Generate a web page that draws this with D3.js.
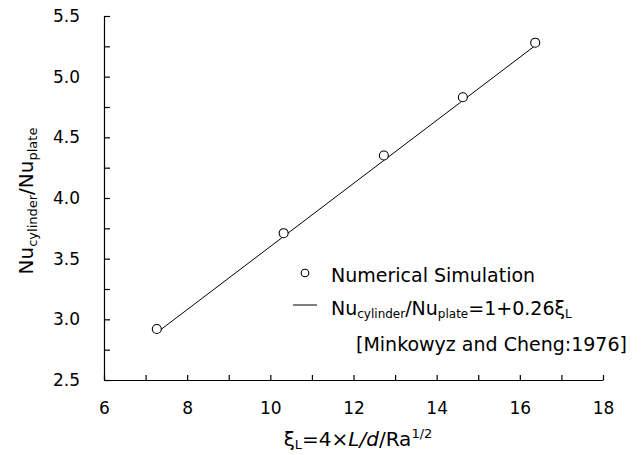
<!DOCTYPE html>
<html><head><meta charset="utf-8">
<script src="https://cdn.jsdelivr.net/npm/d3@7"></script>
<style>
body{margin:0;background:#fff;}
text{font-family:"DejaVu Sans","Liberation Sans",Arial,sans-serif;fill:#000;}
</style></head>
<body>
<svg id="c" width="642" height="455"></svg>
<script>
const xiValues = [7.27, 10.32, 12.73, 14.63, 16.37];
const nuRatio = [2.92, 3.71, 4.35, 4.83, 5.28];
const fitRange = [7.27, 16.37];
const fitA = 1, fitB = 0.26;
const xTicks = [6,7,8,9,10,11,12,13,14,15,16,17,18];
const xLabels = [6,8,10,12,14,16,18];
const yTicks = [2.5,2.75,3,3.25,3.5,3.75,4,4.25,4.5,4.75,5,5.25,5.5];
const yLabels = [2.5,3,3.5,4,4.5,5,5.5];

const svg = d3.select("#c");
const x = d3.scaleLinear().domain([6,18]).range([104,603]);
const y = d3.scaleLinear().domain([2.5,5.5]).range([380,16]);
const fs = 17;

const gx = svg.append("g").attr("transform","translate(0,380)")
  .call(d3.axisBottom(x).tickValues(xTicks).tickSizeInner(-5).tickSizeOuter(0).tickPadding(22)
    .tickFormat(d => xLabels.includes(d) ? d3.format("d")(d) : ""));
const gy = svg.append("g").attr("transform","translate(104,0)")
  .call(d3.axisLeft(y).tickValues(yTicks).tickSizeInner(-6).tickSizeOuter(0).tickPadding(24)
    .tickFormat(d => yLabels.includes(d) ? d3.format(".1f")(d) : ""));
[gx,gy].forEach(g=>{
  g.attr("font-size",fs).attr("font-family",null);
  g.selectAll("path,line").attr("stroke","#000").attr("stroke-width",1.2);
  g.selectAll("text").attr("fill","#000");
});

// fit line
const fitData = fitRange.map(v=>({x:v,y:fitA+fitB*v}));
svg.append("path").datum(fitData)
  .attr("d", d3.line().x(d=>x(d.x)).y(d=>y(d.y)))
  .attr("fill","none").attr("stroke","#000").attr("stroke-width",1);

// points
svg.selectAll("circle.pt").data(xiValues.map((v,i)=>({x:v,y:nuRatio[i]})))
  .join("circle").attr("class","pt")
  .attr("cx",d=>x(d.x)).attr("cy",d=>y(d.y)).attr("r",4.5)
  .attr("fill","#fff").attr("stroke","#000").attr("stroke-width",1.1);

// y title
const yt = svg.append("text").attr("transform","translate(33,201) rotate(-90)")
  .attr("text-anchor","middle").attr("font-size",20);
yt.append("tspan").text("Nu");
yt.append("tspan").attr("font-size",13).attr("dy",4).text("cylinder");
yt.append("tspan").attr("dy",-4).text("/Nu");
yt.append("tspan").attr("font-size",13).attr("dy",4).text("plate");

// x title
const xt = svg.append("text").attr("x",358).attr("y",446).attr("text-anchor","middle").attr("font-size",20);
xt.append("tspan").text("ξ");
xt.append("tspan").attr("font-size",13).attr("dy",3).text("L");
xt.append("tspan").attr("dy",-3).text("=4×");
xt.append("tspan").attr("font-style","italic").text("L/d");
xt.append("tspan").text("/Ra");
xt.append("tspan").attr("font-size",13).attr("dy",-8).text("1/2");

// legend
svg.append("circle").attr("cx",305).attr("cy",273).attr("r",3.8)
  .attr("fill","#fff").attr("stroke","#000").attr("stroke-width",1.1);
svg.append("text").attr("x",331).attr("y",282).attr("font-size",19).text("Numerical Simulation");
svg.append("line").attr("x1",293).attr("x2",317).attr("y1",305).attr("y2",305)
  .attr("stroke","#000").attr("stroke-width",1);
const l2 = svg.append("text").attr("x",331).attr("y",315).attr("font-size",19);
l2.append("tspan").text("Nu");
l2.append("tspan").attr("font-size",12).attr("dy",3).text("cylinder");
l2.append("tspan").attr("dy",-3).text("/Nu");
l2.append("tspan").attr("font-size",12).attr("dy",3).text("plate");
l2.append("tspan").attr("dy",-3).text("=1+0.26ξ");
l2.append("tspan").attr("font-size",12).attr("dy",3).text("L");
svg.append("text").attr("x",356).attr("y",351).attr("font-size",19).text("[Minkowyz and Cheng:1976]");
</script>
</body></html>
